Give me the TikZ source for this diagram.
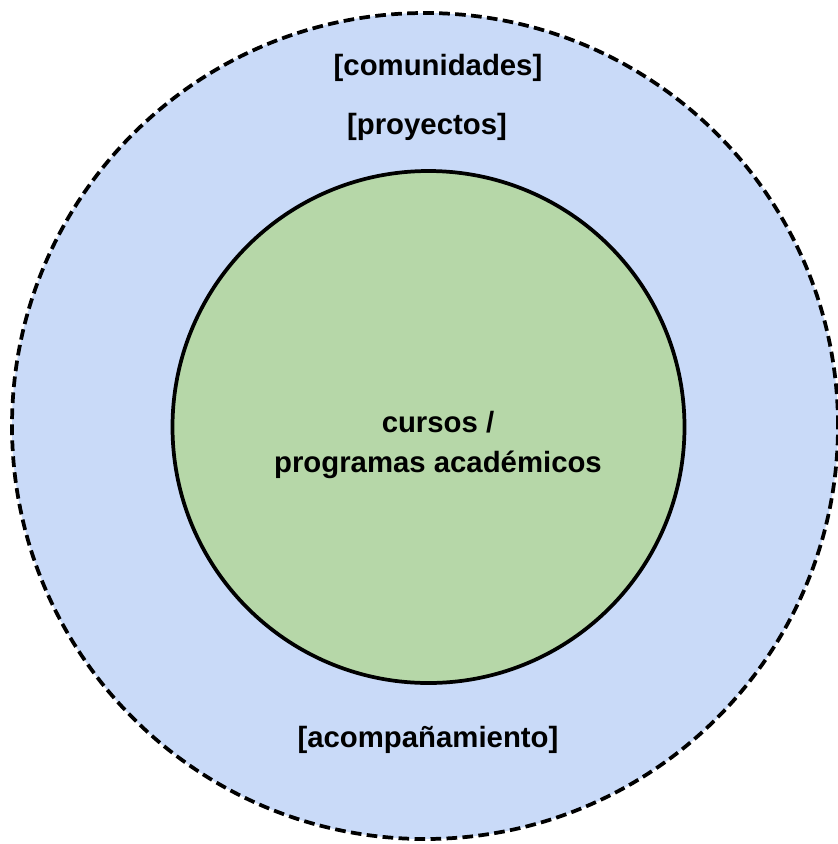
\documentclass[tikz,border=0pt]{standalone}
\usepackage{fontspec}
\setmainfont{Liberation Sans}
\definecolor{ringblue}{HTML}{C9DAF8}
\definecolor{coregreen}{HTML}{B6D7A8}
\begin{document}
\begin{tikzpicture}[x=0.75pt,y=-0.75pt,inner sep=0pt,outer sep=0pt,
ring/.style={draw,circle,line width=2.8pt,fill=ringblue,dash pattern=on 8pt off 4pt,minimum size=619.5pt},
core/.style={draw,circle,line width=2.8pt,fill=coregreen,minimum size=384pt},
lbl/.style={font=\fontsize{22}{30}\selectfont\bfseries,align=center}]
\useasboundingbox (0,0) rectangle (838,844);
\draw (425,426) node[ring] (ecosistema) {};
\draw (428.5,427) node[core] (nucleo) {};
\draw (438,68) node[lbl] (comunidades) {[comunidades]};
\draw (427,127) node[lbl] (proyectos) {[proyectos]};
\draw (438,445) node[lbl] (cursos) {cursos /\\ programas académicos};
\draw (428,740) node[lbl] (acompanamiento) {[acompañamiento]};
\end{tikzpicture}
\end{document}
